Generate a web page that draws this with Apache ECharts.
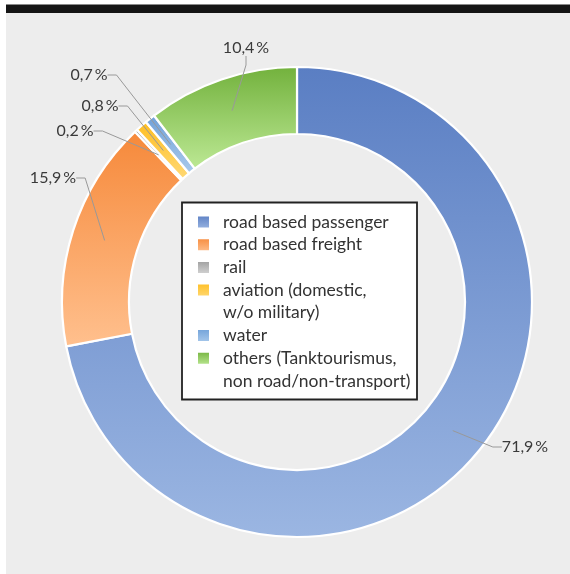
<!DOCTYPE html>
<html><head><meta charset="utf-8">
<script src="https://cdn.jsdelivr.net/npm/echarts/dist/echarts.min.js"></script>
<style>html,body{margin:0;padding:0;background:#fff}#c{width:570px;height:574px}</style>
</head><body><div id="c"></div>
<script>
const categories = ['road based passenger','road based freight','rail','aviation (domestic, w/o military)','water','others (Tanktourismus, non road/non-transport)'];
const legendLabels = ['road based passenger','road based freight','rail','aviation (domestic,\nw/o military)','water','others (Tanktourismus,\nnon road/non-transport)'];
const shares = [71.9, 15.9, 0.2, 0.8, 0.7, 10.4];
const colorTop = ['#5a7ec3','#f6893a','#9c9c9c','#ffbe22','#6fa0d8','#72b13c'];
const colorBottom = ['#9bb6e2','#ffc08e','#d6d6d6','#ffd976','#aacaec','#bde995'];
const labelPos = [[525,447],[53,178],[75,131],[100,106],[89,75],[246,48]];

const chart = echarts.init(document.getElementById('c'));
const fmt = v => v.toFixed(1).replace('.', ',') + '\u2009%';
const ringData = categories.map((n,i)=>({
  name:n, value:shares[i],
  itemStyle:{color:new echarts.graphic.LinearGradient(0,0,0,1,[{offset:0,color:colorTop[i]},{offset:1,color:colorBottom[i]}])}
}));
const labelData = categories.map((n,i)=>({name:n, value:shares[i]}));
const LH = 22.7;
// multi-line entries get an empty leading line so the icon sits on the first text line
const legendText = n => { const t = legendLabels[categories.indexOf(n)]; return t.indexOf('\n') >= 0 ? '\n' + t : t; };
const legendBase = {
  orient:'vertical', left:196, itemWidth:13, itemHeight:13, itemGap:0, icon:'rect', padding:0,
  selectedMode:false,
  formatter: legendText,
  textStyle:{fontFamily:'Lato', fontSize:17.5, color:'#333', lineHeight:LH, padding:[0,0,0,8]}
};
chart.setOption({
  animation:false,
  graphic:[
    {type:'rect', shape:{x:6,y:13,width:564,height:561}, style:{fill:'#ededed'}, z:-10, silent:true},
    {type:'rect', shape:{x:6,y:4.5,width:564,height:8.5}, style:{fill:'#151515'}, z:-10, silent:true},
    {type:'rect', shape:{x:182,y:202.5,width:235,height:197}, style:{fill:'#fff', stroke:'#222', lineWidth:1.8}, z:1, silent:true}
  ],
  legend:[
    Object.assign({}, legendBase, {top:222-LH/2, data:categories.slice(0,3)}),
    Object.assign({}, legendBase, {top:222+1.5*LH, data:categories.slice(3,5)}),
    Object.assign({}, legendBase, {top:222+4.5*LH, data:categories.slice(5,6)})
  ],
  series:[
    {
      type:'pie', center:[297,302], radius:[168,235], startAngle:90, silent:true,
      label:{show:false}, labelLine:{show:false},
      itemStyle:{borderColor:'#fff', borderWidth:2.2},
      data:ringData
    },
    {
      type:'pie', center:[297,302], radius:[0,202], startAngle:90, silent:true,
      avoidLabelOverlap:false, z:5,
      itemStyle:{color:'transparent', borderWidth:0},
      label:{show:true, position:'outside', formatter:p=>fmt(p.value), fontFamily:'Lato', fontSize:16, color:'#3a3a3a'},
      labelLine:{show:true, length:10, length2:9, lineStyle:{color:'#999', width:1}},
      labelLayout:p=>({x:labelPos[p.dataIndex][0], y:labelPos[p.dataIndex][1], align:'center', verticalAlign:'middle'}),
      data:labelData
    }
  ]
});
</script></body></html>
